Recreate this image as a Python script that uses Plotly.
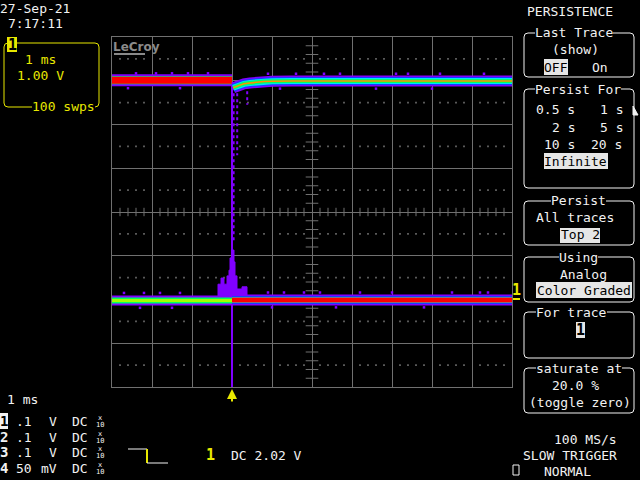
import numpy as np
import plotly.graph_objects as go

W, H = 640, 480

# ---------------- data (time in ms, 1 ms/div; volts, 1 V/div, screen centre = 0) ----------
t_upper_pre = [-3.0, 0.0]
v_upper_pre = [3.01, 3.01]
t_upper_post = [0.03, 0.1, 0.2, 0.3, 0.45, 0.6, 0.8, 1.0, 1.5, 7.0]
v_upper_post = [2.84, 2.87, 2.90, 2.93, 2.95, 2.97, 2.985, 2.99, 2.995, 2.995]
t_lower_pre = [-3.0, 0.0]
v_lower_pre = [-2.02, -2.02]
t_lower_post = [0.0, 7.0]
v_lower_post = [-2.01, -2.01]
t_edge = [0.0, 0.0]
v_edge = [2.95, -4.0]
t_drop = [[0.04, 0.04], [0.13, 0.13], [0.38, 0.38]]
v_drop = [[2.85, -0.7], [2.85, 1.3], [2.9, 2.45]]
t_glitch = [-0.35, -0.35, -0.275, -0.275, -0.2, -0.2, -0.125, -0.125, -0.075, -0.075,
            -0.05, -0.05, 0.0, 0.0, 0.05, 0.05, 0.075, 0.075, 0.125, 0.125,
            0.25, 0.25, 0.375, 0.375]
v_glitch = [-1.94, -1.65, -1.65, -1.51, -1.51, -1.65, -1.65, -1.46, -1.46, -1.33,
            -1.33, -1.05, -1.05, -0.87, -0.87, -1.14, -1.14, -1.46, -1.46, -1.76,
            -1.76, -1.71, -1.71, -1.94]
# sparse noise specks along the band edges
t_speck_hi = [-2.4, -1.9, -1.5, -1.1, -0.6, 0.9, 1.6, 2.3, 2.7, 4.1, 4.4, 5.2, 6.3,
              -2.6, -1.3, 1.2, 3.6, 5.0]
v_speck_hi = [3.17, 3.17, 3.17, 3.17, 3.17, 3.16, 3.16, 3.16, 3.16, 3.16, 3.16, 3.16, 3.16,
              2.83, 2.83, 2.82, 2.82, 2.82]
t_speck_lo = [-2.7, -2.2, -1.8, -1.3, 0.9, 1.3, 1.8, 2.2, 3.2, 4.0, 5.5, 6.2, 6.4,
              -2.3, -1.5, 1.0, 2.6, 4.8]
v_speck_lo = [-1.85, -1.85, -1.85, -1.85, -1.84, -1.84, -1.84, -1.84, -1.84, -1.84, -1.84,
              -1.84, -1.84, -2.19, -2.19, -2.18, -2.18, -2.18]

# ---------------- styling ----------
BLACK = "#000000"
WHITE = "#f2f2f2"
YELLOW = "#e8e800"
GRID = "#707070"
PURPLE = "#8000ff"
BLUE = "#1040ff"
CYAN = "#00e0ff"
GREEN = "#00ff60"
LIME = "#a0ff00"
ORANGE = "#ff9000"
RED = "#ff0000"
MONO = "DejaVu Sans Mono"


def px(x):
    return x / W


def py(y):
    return 1 - y / H


fig = go.Figure()

# grid decorations: centre-line ticks and half-division dots
sub = np.round(np.arange(-3, 7.0001, 0.2), 2)
sub = sub[np.abs(sub - np.round(sub)) > 1e-6]
vsub = np.round(np.arange(-4, 4.0001, 0.2), 2)
vsub = vsub[np.abs(vsub - np.round(vsub)) > 1e-6]
half_rows = np.arange(-3.5, 3.51, 1.0)

fig.add_trace(go.Scatter(x=sub, y=np.zeros_like(sub), mode="markers",
                         marker=dict(symbol="line-ns", size=6, line=dict(width=1, color=GRID)),
                         hoverinfo="skip"))
fig.add_trace(go.Scatter(x=np.full_like(vsub, 2.0), y=vsub, mode="markers",
                         marker=dict(symbol="line-ew", size=9, line=dict(width=1, color=GRID)),
                         hoverinfo="skip"))
dx, dy = np.meshgrid(sub, half_rows)
fig.add_trace(go.Scatter(x=dx.ravel(), y=dy.ravel(), mode="markers",
                         marker=dict(symbol="square", size=1.6, color=GRID, line=dict(width=0)),
                         hoverinfo="skip"))


def band(t, v, stack):
    for col, w in stack:
        fig.add_trace(go.Scatter(x=t, y=v, mode="lines", line=dict(color=col, width=w),
                                 hoverinfo="skip"))


# glitch region and falling edge
fig.add_trace(go.Scatter(x=t_glitch, y=v_glitch, mode="lines", fill="toself",
                         fillcolor=PURPLE, line=dict(color=PURPLE, width=1), hoverinfo="skip"))
fig.add_trace(go.Scatter(x=t_edge, y=v_edge, mode="lines", line=dict(color=PURPLE, width=2),
                         hoverinfo="skip"))
for tt, vv in zip(t_drop, v_drop):
    fig.add_trace(go.Scatter(x=tt, y=vv, mode="lines",
                             line=dict(color=PURPLE, width=2, dash="dot"), hoverinfo="skip"))

band(t_upper_pre, v_upper_pre, [(PURPLE, 12), (GREEN, 8), (RED, 7)])
band(t_upper_post, v_upper_post, [(PURPLE, 11), (BLUE, 8), (CYAN, 6), (GREEN, 4), (ORANGE, 1.5)])
band(t_lower_pre, v_lower_pre, [(PURPLE, 10), (GREEN, 6), (LIME, 3)])
band(t_lower_post, v_lower_post, [(PURPLE, 11), (BLUE, 8), (CYAN, 6), (RED, 5)])

# noise specks on the band edges
fig.add_trace(go.Scatter(x=t_speck_hi + t_speck_lo, y=v_speck_hi + v_speck_lo, mode="markers",
                         marker=dict(symbol="square", size=2.5, color=PURPLE, line=dict(width=0)),
                         hoverinfo="skip"))

# markers beside the grid
fig.add_trace(go.Scatter(x=[-3.09], y=[0], mode="markers", cliponaxis=False,
                         marker=dict(symbol="triangle-right", size=8, color=YELLOW),
                         hoverinfo="skip"))
fig.add_trace(go.Scatter(x=[7.12], y=[0], mode="markers", cliponaxis=False,
                         marker=dict(symbol="triangle-left", size=6, color=YELLOW),
                         hoverinfo="skip"))

axis_common = dict(showgrid=True, gridcolor=GRID, gridwidth=1, zeroline=False,
                   showticklabels=False, ticks="", showline=True, mirror=True,
                   linecolor=GRID, linewidth=1, fixedrange=True)
fig.update_layout(
    width=W, height=H, margin=dict(l=0, r=0, t=0, b=0),
    paper_bgcolor=BLACK, plot_bgcolor=BLACK, showlegend=False,
    xaxis=dict(domain=[px(112), px(512)], range=[-3, 7], dtick=1, tick0=0, **axis_common),
    yaxis=dict(domain=[py(387), py(37)], range=[-4, 4], dtick=1, tick0=0, **axis_common),
)

shapes = []
annots = []


def rbox(x0, y0, x1, y1, color, r=4, width=1):
    rx, ry = r / W, r / H
    X0, X1, Y0, Y1 = px(x0), px(x1), py(y0), py(y1)
    p = (f"M {X0+rx},{Y0} L {X1-rx},{Y0} Q {X1},{Y0} {X1},{Y0-ry} "
         f"L {X1},{Y1+ry} Q {X1},{Y1} {X1-rx},{Y1} L {X0+rx},{Y1} "
         f"Q {X0},{Y1} {X0},{Y1+ry} L {X0},{Y0-ry} Q {X0},{Y0} {X0+rx},{Y0} Z")
    shapes.append(dict(type="path", path=p, xref="paper", yref="paper",
                       line=dict(color=color, width=width), layer="above"))


def rect(x0, y0, x1, y1, fill=None, color=None, width=1):
    shapes.append(dict(type="rect", xref="paper", yref="paper",
                       x0=px(x0), x1=px(x1), y0=py(y1), y1=py(y0),
                       fillcolor=fill if fill else "rgba(0,0,0,0)",
                       line=dict(color=color if color else "rgba(0,0,0,0)", width=width),
                       layer="above"))


def line(x0, y0, x1, y1, color, width=1):
    shapes.append(dict(type="line", xref="paper", yref="paper",
                       x0=px(x0), x1=px(x1), y0=py(y0), y1=py(y1),
                       line=dict(color=color, width=width), layer="above"))


def txt(s, x, y, color=WHITE, size=13, bg=None, bold=False, anchor="left", family=MONO):
    annots.append(dict(text=f"<b>{s}</b>" if bold else s, x=px(x), y=py(y),
                       xref="paper", yref="paper", xanchor=anchor, yanchor="middle",
                       showarrow=False, borderpad=0, borderwidth=0,
                       bgcolor=bg if bg else "rgba(0,0,0,0)",
                       font=dict(family=family, size=size, color=color)))


# --- top-left date/time and timebase box
txt("27-Sep-21", 0, 8)
txt("7:17:11", 8, 23)
rbox(4, 43, 99, 107, YELLOW)
rect(7, 37, 17, 52, fill=YELLOW)
txt("1", 12, 45, color=BLACK, size=15, bold=True, anchor="center")
txt("1 ms", 25, 59, color=YELLOW)
txt("1.00 V", 17, 75, color=YELLOW)
txt("100 swps", 32, 106, color=YELLOW, bg=BLACK)

# --- LeCroy logo
txt("LeCroy", 113, 47, color="#8a8a8a", size=12, bold=True, family="DejaVu Sans")
line(114, 54, 145, 54, "#8a8a8a", 2)

# --- right panel
txt("PERSISTENCE", 527, 11)
rbox(524, 33, 634, 77, WHITE)
txt("Last Trace", 535, 33, bg=BLACK)
txt("(show)", 552, 50)
rect(544, 59, 568, 75, fill="#e6e6e6")
txt("OFF", 544, 67, color=BLACK)
txt("On", 592, 67)

rbox(524, 89, 634, 188, WHITE)
txt("Persist For", 535, 89, bg=BLACK)
txt("0.5 s", 536, 110)
txt("1 s", 600, 110)
txt("2 s", 552, 127)
txt("5 s", 600, 127)
txt("10 s", 544, 144)
txt("20 s", 591, 144)
rect(544, 153, 608, 169, fill="#e6e6e6")
txt("Infinite", 544, 161, color=BLACK)
shapes.append(dict(type="path", xref="paper", yref="paper",
                   path=f"M {px(633)},{py(106)} L {px(638)},{py(115)} L {px(633)},{py(115)} Z",
                   fillcolor=WHITE, line=dict(color=WHITE, width=1), layer="above"))

rbox(524, 201, 634, 245, WHITE)
txt("Persist", 551, 201, bg=BLACK)
txt("All traces", 536, 218)
rect(560, 228, 600, 243, fill="#e6e6e6")
txt("Top 2", 561, 235, color=BLACK)

rbox(524, 257, 634, 302, WHITE)
txt("Using", 559, 257, bg=BLACK)
txt("Analog", 560, 274)
rect(536, 282, 632, 298, fill="#e6e6e6")
txt("Color Graded", 537, 290, color=BLACK)

rbox(524, 312, 634, 358, WHITE)
txt("For trace", 536, 312, bg=BLACK)
rect(576, 322, 585, 338, fill="#e6e6e6")
txt("1", 580.5, 330, color=BLACK, size=15, bold=True, anchor="center")

rbox(524, 368, 634, 413, WHITE)
txt("saturate at", 536, 368, bg=BLACK)
txt("20.0 %", 552, 385)
txt("(toggle zero)", 529, 402)

# trigger level marker at right edge of grid
txt("1", 516.5, 290, color=YELLOW, size=15, bold=True, anchor="center")
line(513, 299, 520, 299, YELLOW, 2)

# --- bottom-left channel block
txt("1 ms", 7, 399)
rows = [421, 437, 452, 468]
labels = ["1", "2", "3", "4"]
vdiv = [".1", ".1", ".1", "50"]
unit = ["V", "V", "V", "mV"]
unit_x = [49, 49, 49, 41]
for i, ry in enumerate(rows):
    if i == 0:
        rect(0, ry - 8, 8, ry + 8, fill=WHITE)
        txt(labels[i], 4, ry, color=BLACK, size=14, bold=True, anchor="center")
    else:
        txt(labels[i], 4, ry, size=14, bold=True, anchor="center")
    txt(vdiv[i], 16, ry)
    txt(unit[i], unit_x[i], ry)
    txt("DC", 72, ry)
    txt("x", 100, ry - 3, size=7, anchor="center")
    txt("10", 100, ry + 4, size=7, anchor="center")

# trigger slope symbol and level
line(128, 449, 147, 449, WHITE, 1)
line(147, 449, 147, 463, YELLOW, 2)
line(147, 463, 168, 463, WHITE, 1)
txt("1", 210.5, 455, color=YELLOW, size=15, bold=True, anchor="center")
txt("DC 2.02 V", 231, 455)

# bottom-right acquisition status
txt("100 MS/s", 617, 439, anchor="right")
txt("SLOW TRIGGER", 617, 455, anchor="right")
txt("NORMAL", 544, 471)
rect(513, 465, 519, 475, color=WHITE, width=1)

# trigger position arrow
annots.append(dict(x=0, y=py(389), xref="x", yref="paper", text="", showarrow=True,
                   ax=0, ay=14, arrowhead=2, arrowsize=1, arrowwidth=2,
                   arrowcolor=YELLOW, standoff=0))

fig.update_layout(shapes=shapes, annotations=annots)
fig.write_html("out.html", config={"displayModeBar": False},
               post_script="document.body.style.margin='0';document.body.style.background='#000';")
